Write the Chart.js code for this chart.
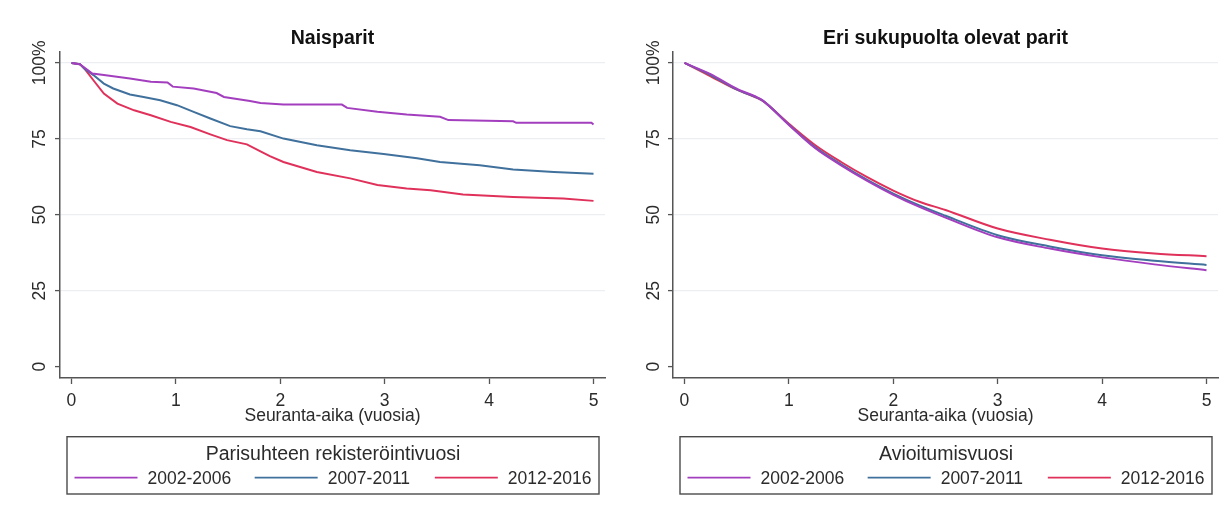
<!DOCTYPE html>
<html>
<head>
<meta charset="utf-8">
<script src="https://cdn.jsdelivr.net/npm/chart.js@4/dist/chart.umd.min.js"></script>
<style>
html, body { margin: 0; padding: 0; background: #ffffff; }
#wrap { position: relative; width: 1231px; height: 510px; overflow: hidden; }
.panel { position: absolute; top: 0; height: 510px; }
#p1 { left: 0; width: 615px; }
#p2 { left: 615px; width: 616px; }
</style>
</head>
<body>
<div id="wrap">
  <div class="panel" id="p1"><canvas id="c1"></canvas></div>
  <div class="panel" id="p2"><canvas id="c2"></canvas></div>
</div>
<script>
// ---------- data ----------
const seriesLabels = ['2002-2006', '2007-2011', '2012-2016'];
const seriesColors = ['#a33fbf', '#40709c', '#e0315b'];
const xTicks = [0, 1, 2, 3, 4, 5];
const yTicks = [0, 25, 50, 75, 100];
const yTickLabels = ['0', '25', '50', '75', '100%'];
const xAxisTitle = 'Seuranta-aika (vuosia)';

const leftTitle = 'Naisparit';
const leftLegendTitle = 'Parisuhteen rekisteröintivuosi';
const naisT1 = [0, 0.08, 0.2, 0.31, 0.56, 0.76, 0.92, 0.97, 1.17, 1.39, 1.46, 1.71, 1.81, 2.03, 2.59, 2.64, 2.93, 3.21, 3.53, 3.61, 4.23, 4.26, 4.98, 5.0];
const naisV1 = [100, 99.6, 96.5, 96.0, 94.9, 93.8, 93.6, 92.2, 91.6, 90.1, 88.8, 87.5, 86.8, 86.3, 86.3, 85.2, 83.9, 83.0, 82.3, 81.2, 80.8, 80.3, 80.3, 79.7];
const naisT2 = [0, 0.08, 0.13, 0.21, 0.31, 0.40, 0.56, 0.69, 0.85, 1.01, 1.17, 1.33, 1.52, 1.68, 1.81, 2.03, 2.35, 2.67, 2.99, 3.31, 3.53, 3.91, 4.23, 4.62, 5.0];
const naisV2 = [100, 99.6, 97.9, 96.0, 93.2, 91.6, 89.6, 88.8, 87.7, 86.1, 83.9, 81.7, 79.2, 78.2, 77.5, 75.1, 72.9, 71.3, 70.0, 68.6, 67.4, 66.3, 64.9, 64.1, 63.5];
const naisT3 = [0, 0.08, 0.13, 0.21, 0.31, 0.44, 0.60, 0.76, 0.95, 1.14, 1.33, 1.49, 1.68, 1.81, 1.90, 2.03, 2.35, 2.67, 2.93, 3.21, 3.44, 3.75, 4.23, 4.71, 5.0];
const naisV3 = [100, 99.6, 97.9, 94.3, 89.9, 86.6, 84.4, 82.8, 80.6, 78.9, 76.5, 74.6, 73.2, 70.9, 69.3, 67.4, 64.1, 62.0, 59.8, 58.7, 58.1, 56.7, 55.9, 55.4, 54.6];

const rightTitle = 'Eri sukupuolta olevat parit';
const rightLegendTitle = 'Avioitumisvuosi';
const eriT = [0, 0.25, 0.5, 0.7, 0.75, 1, 1.25, 1.5, 1.75, 2, 2.25, 2.5, 3, 3.5, 4, 4.5, 5];
const eriV1 = [100, 96.3, 91.5, 88.6, 87.6, 79.6, 72.0, 66.3, 61.2, 56.6, 52.6, 49.1, 42.6, 38.9, 36.0, 33.7, 31.8];
const eriV2 = [100, 96.0, 91.3, 88.5, 87.6, 79.7, 72.3, 66.6, 61.5, 57.0, 53.1, 49.7, 43.3, 39.6, 36.7, 34.9, 33.5];
const eriV3 = [100, 95.6, 91.2, 88.4, 87.5, 80.0, 73.0, 67.4, 62.4, 58.0, 54.3, 51.6, 45.5, 41.8, 38.9, 37.3, 36.4];

// ---------- rendering ----------
const FONT = '"Liberation Sans", Arial, Helvetica, sans-serif';
const TEXT = '#2b2b2b';
const AXIS = '#555555';

const panelDecor = {
  id: 'panelDecor',
  afterDraw(chart, args, opts) {
    const ctx = chart.ctx;
    const ca = chart.chartArea;
    const ys = chart.scales.y;
    ctx.save();
    // rotated y tick labels
    ctx.fillStyle = TEXT;
    ctx.font = '17.5px ' + FONT;
    ctx.textAlign = 'center';
    ctx.textBaseline = 'middle';
    yTicks.forEach((v, i) => {
      const py = ys.getPixelForValue(v);
      ctx.save();
      ctx.translate(ca.left - opts.labelOffset, py);
      ctx.rotate(-Math.PI / 2);
      ctx.fillText(yTickLabels[i], 0, 0);
      ctx.restore();
    });
    // legend box
    const bx = ca.left + 7;
    const bw = (ca.right - 6) - bx;
    const by = ca.bottom + 58.7;
    const bh = 57.3;
    ctx.strokeStyle = '#4a4a4a';
    ctx.lineWidth = 1.4;
    ctx.strokeRect(bx, by, bw, bh);
    // legend title
    ctx.font = '19.5px ' + FONT;
    ctx.fillStyle = TEXT;
    ctx.textAlign = 'center';
    ctx.textBaseline = 'middle';
    ctx.fillText(opts.legendTitle, bx + bw / 2, ca.bottom + 77);
    // legend items
    ctx.font = '17.5px ' + FONT;
    ctx.textAlign = 'left';
    const ds = chart.data.datasets;
    const sampleW = 63, gap = 10, inset = 7.5;
    const tw = ctx.measureText(ds[0].label).width;
    const itemW = sampleW + gap + tw;
    const step = (bw - 2 * inset - itemW) / (ds.length - 1);
    ds.forEach((d, i) => {
      const sx = bx + inset + i * step;
      const ly = ca.bottom + 99.7;
      ctx.strokeStyle = d.borderColor;
      ctx.lineWidth = 1.7;
      ctx.beginPath();
      ctx.moveTo(sx, ly);
      ctx.lineTo(sx + sampleW, ly);
      ctx.stroke();
      ctx.fillStyle = TEXT;
      ctx.fillText(d.label, sx + sampleW + gap, ca.bottom + 100.7);
    });
    ctx.restore();
  }
};

function makeSeries(times, values, i, smooth) {
  return {
    label: seriesLabels[i],
    data: times.map((t, k) => ({ x: t, y: values[k] })),
    borderColor: seriesColors[i],
    backgroundColor: seriesColors[i],
    borderWidth: 2,
    pointRadius: 0,
    fill: false,
    tension: 0,
    cubicInterpolationMode: smooth ? 'monotone' : 'default'
  };
}

function makePanel(id, title, legendTitle, datasets, padL, padR, labelOffset) {
  return new Chart(document.getElementById(id), {
    type: 'line',
    data: { datasets: datasets },
    options: {
      responsive: true,
      maintainAspectRatio: false,
      animation: false,
      events: [],
      layout: { padding: { left: padL, right: padR, top: 26.5, bottom: 83 } },
      plugins: {
        legend: { display: false },
        tooltip: { enabled: false },
        title: {
          display: true, text: title, color: '#111111',
          font: { family: FONT, size: 19.5, weight: 'bold', lineHeight: 1.2 },
          padding: { top: 0, bottom: 2.1 }
        },
        panelDecor: { legendTitle: legendTitle, labelOffset: labelOffset }
      },
      scales: {
        x: {
          type: 'linear', min: -0.11, max: 5.11,
          afterBuildTicks: s => { s.ticks = xTicks.map(v => ({ value: v })); },
          grid: { display: true, drawOnChartArea: false, drawTicks: true, tickLength: 6, tickColor: AXIS, tickWidth: 1.3 },
          border: { display: true, color: AXIS, width: 1.5 },
          ticks: { color: TEXT, font: { family: FONT, size: 17.5, lineHeight: 1.2 }, padding: 7, maxRotation: 0, autoSkip: false },
          title: { display: true, text: xAxisTitle, color: TEXT, font: { family: FONT, size: 17.5, lineHeight: 1.2 }, padding: { top: -13, bottom: 0 } }
        },
        y: {
          type: 'linear', min: -3.7, max: 103.6,
          afterBuildTicks: s => { s.ticks = yTicks.map(v => ({ value: v })); },
          afterFit: s => { s.width = 0; },
          grid: {
            color: c => (c.tick && c.tick.value === 0) ? 'rgba(0,0,0,0)' : '#eceef1',
            lineWidth: 1.2, drawTicks: true, tickLength: 5, tickColor: AXIS, tickWidth: 1.3
          },
          border: { display: true, color: AXIS, width: 1.5 },
          ticks: { display: false }
        }
      }
    },
    plugins: [panelDecor]
  });
}

makePanel('c1', leftTitle, leftLegendTitle, [
  makeSeries(naisT1, naisV1, 0, false),
  makeSeries(naisT2, naisV2, 1, false),
  makeSeries(naisT3, naisV3, 2, false)
], 60, 10, 20);

makePanel('c2', rightTitle, rightLegendTitle, [
  makeSeries(eriT, eriV1, 0, true),
  makeSeries(eriT, eriV2, 1, true),
  makeSeries(eriT, eriV3, 2, true)
], 58, 13, 18.5);
</script>
</body>
</html>
